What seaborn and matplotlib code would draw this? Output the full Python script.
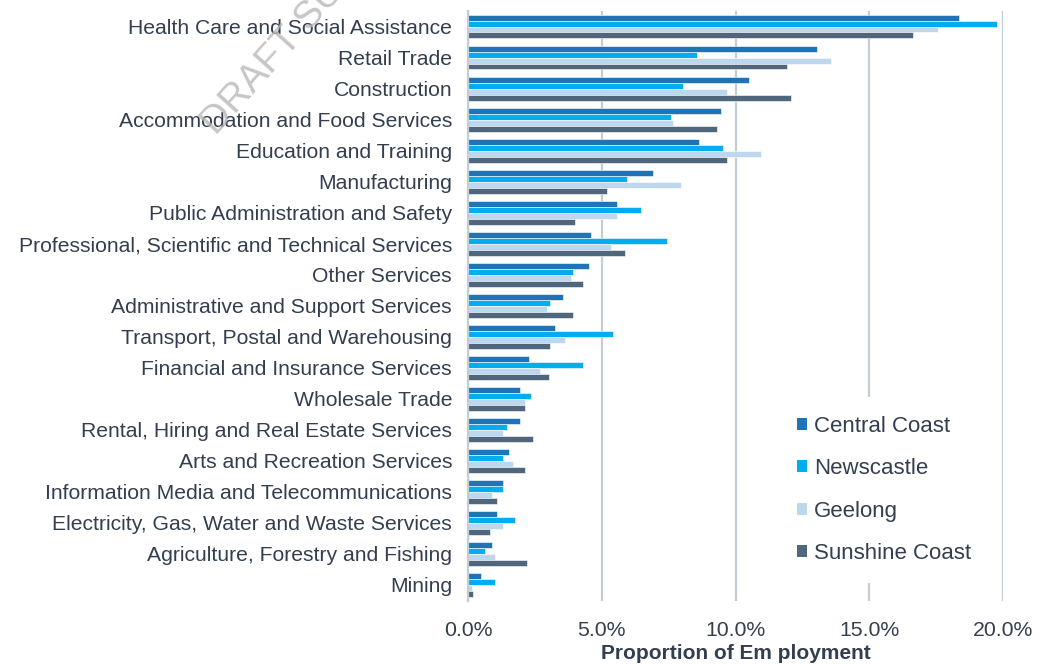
import matplotlib
matplotlib.use("Agg")
import matplotlib.pyplot as plt
import seaborn as sns
import pandas as pd
import numpy as np
from matplotlib.ticker import FuncFormatter, FixedLocator
from matplotlib.patches import Patch

industries = [
    "Health Care and Social Assistance",
    "Retail Trade",
    "Construction",
    "Accommodation and Food Services",
    "Education and Training",
    "Manufacturing",
    "Public Administration and Safety",
    "Professional, Scientific and Technical Services",
    "Other Services",
    "Administrative and Support Services",
    "Transport, Postal and Warehousing",
    "Financial and Insurance Services",
    "Wholesale Trade",
    "Rental, Hiring and Real Estate Services",
    "Arts and Recreation Services",
    "Information Media and Telecommunications",
    "Electricity, Gas, Water and Waste Services",
    "Agriculture, Forestry and Fishing",
    "Mining",
]
regions = ["Central Coast", "Newscastle", "Geelong", "Sunshine Coast"]

central_coast = [18.34, 13.04, 10.50, 9.46, 8.63, 6.92, 5.56, 4.59, 4.51, 3.54,
                 3.25, 2.27, 1.96, 1.96, 1.52, 1.29, 1.07, 0.91, 0.47]
newcastle = [19.78, 8.55, 8.02, 7.59, 9.53, 5.93, 6.46, 7.44, 3.91, 3.08,
             5.41, 4.29, 2.34, 1.44, 1.29, 1.29, 1.74, 0.62, 1.00]
geelong = [17.58, 13.57, 9.67, 7.68, 10.95, 7.95, 5.56, 5.34, 3.85, 2.95,
           3.61, 2.71, 2.12, 1.29, 1.67, 0.91, 1.29, 1.00, 0.15]
sunshine_coast = [16.62, 11.92, 12.06, 9.31, 9.67, 5.19, 4.00, 5.86, 4.29, 3.91,
                  3.08, 3.02, 2.12, 2.42, 2.12, 1.07, 0.84, 2.19, 0.17]

colors = ["#1F73B7", "#00ADEF", "#BDD7EE", "#4F667C"]
text_color = "#333F4F"
grid_color = "#C3CDD6"

records = []
for reg, vals in zip(regions, [central_coast, newcastle, geelong, sunshine_coast]):
    for ind, v in zip(industries, vals):
        records.append({"Industry": ind, "Region": reg, "Value": v})
df = pd.DataFrame(records)

sns.set_style("white")
plt.rcParams["font.family"] = ["Liberation Sans", "DejaVu Sans"]

fig = plt.figure(figsize=(10.39, 6.64), dpi=100)
ax = fig.add_axes([468 / 1039, 1 - 600.5 / 664, (1003 - 468) / 1039, (600.5 - 11) / 664])

sns.barplot(data=df, x="Value", y="Industry", hue="Region", order=industries,
            hue_order=regions, palette=colors, saturation=1, orient="h", width=0.77,
            edgecolor="white", linewidth=0.4, ax=ax, legend=False, zorder=3)

ax.set_xlim(0, 20.0)
ax.set_ylim(len(industries) - 0.5, -0.5)
ax.set_xticks([0, 5, 10, 15, 20])
ax.xaxis.set_major_formatter(FuncFormatter(lambda v, p: f"{v:.1f}%"))
ax.grid(axis="x", color=grid_color, linewidth=1.6, zorder=0)
ax.grid(axis="y", visible=False)
for s in ["top", "right", "bottom"]:
    ax.spines[s].set_visible(False)
ax.spines["left"].set_color(grid_color)
ax.spines["left"].set_linewidth(1.6)
ax.spines["left"].set_zorder(4)

ax.tick_params(axis="x", length=0, pad=14.5, labelsize=15.3, labelcolor=text_color)
ax.tick_params(axis="y", which="major", length=0, pad=11.5, labelsize=15.2, labelcolor=text_color)
ax.yaxis.set_minor_locator(FixedLocator(np.arange(-0.5, len(industries), 1.0)))
ax.tick_params(axis="y", which="minor", length=5, width=1.6, color=grid_color)

ax.set_ylabel("")
ax.set_xlabel("Proportion of Em ployment", fontsize=15, fontweight="bold",
              color=text_color, labelpad=3)

handles = [Patch(facecolor=c, edgecolor="none") for c in colors]
leg = ax.legend(handles, regions, loc="center left", bbox_to_anchor=(778 / 1039, 1 - 490 / 664),
                bbox_transform=fig.transFigure, borderaxespad=0,
                frameon=True, fontsize=16, labelspacing=0.96, handlelength=0.45,
                handleheight=0.45, handletextpad=0.32, borderpad=0.85,
                labelcolor=text_color)
leg.get_frame().set_facecolor("white")
leg.get_frame().set_edgecolor("none")
leg.get_frame().set_alpha(1.0)
leg.set_zorder(5)

fig.text(216 / 1039, 1 - 136 / 664, "DRAFT SUBJECT", rotation=48,
         fontsize=28, color="#b8b8b8", alpha=0.8, ha="left", va="baseline",
         rotation_mode="anchor", zorder=10)

fig.savefig("out.png", dpi=100)
